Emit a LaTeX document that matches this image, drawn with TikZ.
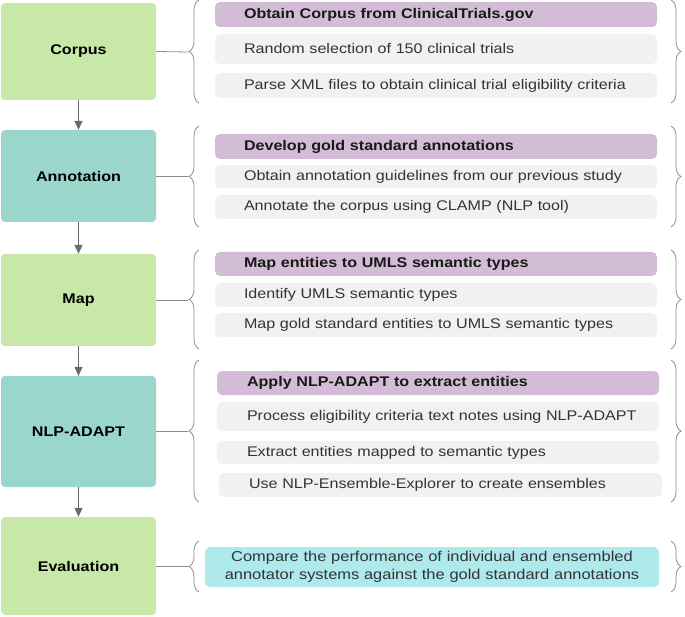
\documentclass[tikz,border=0pt]{standalone}
\usepackage{fontspec}
\setmainfont{Liberation Sans}[FakeStretch=1.15]
\usetikzlibrary{arrows.meta,decorations.pathreplacing}
\definecolor{cgreen}{HTML}{C7E8A9}
\definecolor{cteal}{HTML}{9AD6CB}
\definecolor{cpurple}{HTML}{D3BCD6}
\definecolor{cgrey}{HTML}{F1F1F1}
\definecolor{ccyan}{HTML}{AEE9EB}
\definecolor{cline}{HTML}{8C8C8C}
\definecolor{carrow}{HTML}{6A6A6A}
\definecolor{ctext}{HTML}{333333}
\tikzset{
  stage/.style={rounded corners=4pt, minimum width=155pt, font=\fontsize{14}{16}\selectfont\bfseries, text=black},
  hdr/.style={fill=cpurple, rounded corners=5pt, align=left, inner ysep=0pt, minimum height=25pt, font=\fontsize{14}{16}\selectfont\bfseries, text=black!90},
  item/.style={fill=cgrey, rounded corners=5pt, align=left, inner ysep=0pt, font=\fontsize{14}{16}\selectfont, text=ctext},
  flowarrow/.style={draw=carrow, line width=1pt, -{Triangle[width=8pt,length=9pt]}},
  link/.style={draw=cline, line width=0.8pt},
  brc/.style={draw=cline, line width=0.8pt, decorate, decoration={brace, amplitude=10pt}}
}
\begin{document}
\begin{tikzpicture}[x=1pt,y=-1pt]
\useasboundingbox (0,0) rectangle (685,617);
% stage boxes
\node[stage, fill=cgreen, minimum height=97pt] (corpus) at (78.5,51.5) {Corpus};
\node[stage, fill=cteal, minimum height=92pt] (annot) at (78.5,176) {Annotation};
\node[stage, fill=cgreen, minimum height=92pt] (map) at (78.5,300) {Map};
\node[stage, fill=cteal, minimum height=111pt] (nlp) at (78.5,431.5) {NLP-ADAPT};
\node[stage, fill=cgreen, minimum height=98pt] (eval) at (78.5,566) {Evaluation};
\draw[flowarrow] (corpus) -- (annot);
\draw[flowarrow] (annot) -- (map);
\draw[flowarrow] (map) -- (nlp);
\draw[flowarrow] (nlp) -- (eval);
% group 1
\node[hdr, inner xsep=29pt, text width=384pt] (h1) at (436,14.5) {Obtain Corpus from ClinicalTrials.gov};
\node[item, inner xsep=29pt, text width=384pt, minimum height=30pt] (a1) at (436,49) {Random selection of 150 clinical trials};
\node[item, inner xsep=29pt, text width=384pt, minimum height=25pt] (b1) at (436,85.5) {Parse XML files to obtain clinical trial eligibility criteria};
\coordinate (t1) at (188,52);
\draw[brc] (199,103) -- (199,0);
\draw[brc] (671,0) -- (671,103);
\draw[link] (corpus.east) -- (t1);
% group 2
\node[hdr, inner xsep=29pt, text width=384pt] (h2) at (436,146.5) {Develop gold standard annotations};
\node[item, inner xsep=29pt, text width=384pt, minimum height=23pt] (a2) at (436,176.5) {Obtain annotation guidelines from our previous study};
\node[item, inner xsep=29pt, text width=384pt, minimum height=24pt] (b2) at (436,207) {Annotate the corpus using CLAMP (NLP tool)};
\coordinate (t2) at (188,176);
\draw[brc] (199,227) -- (199,126);
\draw[brc] (671,126) -- (671,227);
\draw[link] (annot.east) -- (t2);
% group 3
\node[hdr, inner xsep=29pt, text width=384pt, minimum height=24pt] (h3) at (436,264) {Map entities to UMLS semantic types};
\node[item, inner xsep=29pt, text width=384pt, minimum height=24pt] (a3) at (436,295) {Identify UMLS semantic types};
\node[item, inner xsep=29pt, text width=384pt, minimum height=24pt] (b3) at (436,325) {Map gold standard entities to UMLS semantic types};
\coordinate (t3) at (188,300);
\draw[brc] (199,349) -- (199,250);
\draw[brc] (671,250) -- (671,349);
\draw[link] (map.east) -- (t3);
% group 4
\node[hdr, inner xsep=30pt, text width=382pt, minimum height=24pt] (h4) at (438,383) {Apply NLP-ADAPT to extract entities};
\node[item, inner xsep=30pt, text width=382pt, minimum height=29pt] (a4) at (438,416.5) {\makebox[382pt][l]{Process eligibility criteria text notes using NLP-ADAPT}};
\node[item, inner xsep=30pt, text width=382pt, minimum height=23pt] (b4) at (438,452.5) {Extract entities mapped to semantic types};
\node[item, inner xsep=30pt, text width=383pt, minimum height=24pt] (c4) at (440.5,485) {Use NLP-Ensemble-Explorer to create ensembles};
\coordinate (t4) at (188,431.5);
\draw[brc] (199,502) -- (199,360);
\draw[brc] (671,360) -- (671,502);
\draw[link] (nlp.east) -- (t4);
% group 5
\node[fill=ccyan, rounded corners=5pt, align=center, inner xsep=10pt, inner ysep=0pt, text width=434pt, minimum height=40pt, font=\fontsize{14.3}{17.5}\selectfont, text=ctext] (e5) at (432,567) {Compare the performance of individual and ensembled\\annotator systems against the gold standard annotations};
\coordinate (t5) at (188,566);
\draw[brc] (199,592) -- (199,541);
\draw[brc] (671,541) -- (671,592);
\draw[link] (eval.east) -- (t5);
\end{tikzpicture}
\end{document}
